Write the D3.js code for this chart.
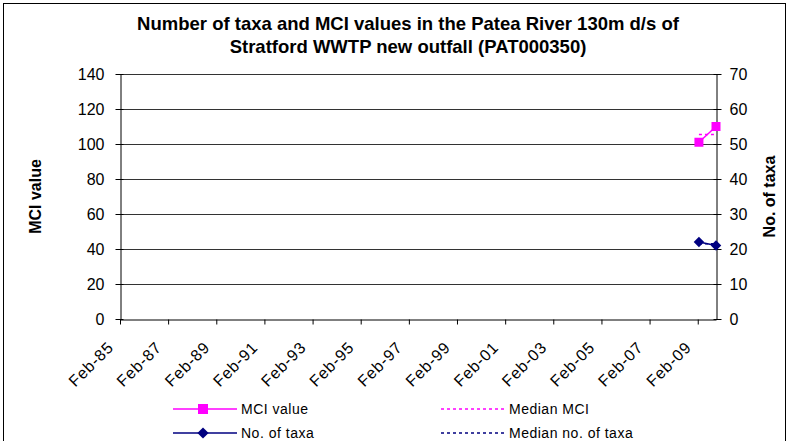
<!DOCTYPE html>
<html>
<head>
<meta charset="utf-8">
<script src="https://cdn.jsdelivr.net/npm/d3@7"></script>
<style>
  body { margin: 0; background: #fff; }
  svg { font-family: "Liberation Sans", Arial, sans-serif; }
</style>
</head>
<body>
<div id="chart"></div>
<script>
// sample dates and values
const sampleDates = ["2009-02-19", "2009-11-05"];
const mciValues = [101, 110];
const taxaValues = [22, 21];
const medianMci = 105.5;
const medianTaxa = 21.5;

const mciTicks = [0, 20, 40, 60, 80, 100, 120, 140];
const taxaTicks = [0, 10, 20, 30, 40, 50, 60, 70];
const tickYears = [1985, 1987, 1989, 1991, 1993, 1995, 1997, 1999, 2001, 2003, 2005, 2007, 2009];

const titleLines = ["Number of taxa and MCI values in the Patea River 130m d/s of",
                    "Stratford WWTP new outfall (PAT000350)"];

const width = 788, height = 441;
const margin = { left: 120, right: 72, top: 74, bottom: 122 };

const parse = d3.timeParse("%Y-%m-%d");
const dates = sampleDates.map(parse);

const x = d3.scaleTime()
    .domain([new Date(1985, 1, 1), parse("2009-11-05")])
    .range([margin.left, width - margin.right]);
const yL = d3.scaleLinear().domain([0, 140]).range([height - margin.bottom, margin.top]);
const yR = d3.scaleLinear().domain([0, 70]).range([height - margin.bottom, margin.top]);

const svg = d3.select("#chart").append("svg")
    .attr("width", width)
    .attr("height", height);

// outer border
svg.append("rect")
    .attr("x", 3.5).attr("y", 3.5)
    .attr("width", width - 6).attr("height", height + 10)
    .attr("fill", "#fff").attr("stroke", "#000");

// title
svg.append("g").selectAll("text")
    .data(titleLines)
    .join("text")
    .attr("x", 408)
    .attr("y", (d, i) => 30 + i * 23)
    .attr("text-anchor", "middle")
    .attr("font-weight", "bold")
    .attr("font-size", 18.5)
    .text(d => d);

// gridlines
svg.append("g").selectAll("line")
    .data(mciTicks.slice(1))
    .join("line")
    .attr("x1", margin.left).attr("x2", width - margin.right)
    .attr("y1", d => Math.round(yL(d)) + 0.5).attr("y2", d => Math.round(yL(d)) + 0.5)
    .attr("stroke", "#333").attr("stroke-width", 1);

// axes
const xTickDates = tickYears.map(y => new Date(y, 1, 1));
const xAxis = svg.append("g")
    .attr("transform", `translate(0,${height - margin.bottom + 0.5})`)
    .call(d3.axisBottom(x).tickValues(xTickDates).tickSize(5).tickSizeOuter(0).tickFormat(d3.timeFormat("%b-%y")));
xAxis.selectAll("text")
    .attr("font-size", 16)
    .attr("letter-spacing", 0.8)
    .attr("text-anchor", "end")
    .attr("dy", null)
    .attr("y", 0)
    .attr("transform", "translate(-6,29) rotate(-45)");

const leftAxis = svg.append("g")
    .attr("transform", `translate(${margin.left + 0.5},0)`)
    .call(d3.axisLeft(yL).tickValues(mciTicks).tickSize(5).tickSizeOuter(0).tickPadding(11));
leftAxis.selectAll("text").attr("font-size", 16);
leftAxis.selectAll(".tick line").attr("x2", -5).attr("x1", 3);

const rightAxis = svg.append("g")
    .attr("transform", `translate(${width - margin.right + 0.5},0)`)
    .call(d3.axisRight(yR).tickValues(taxaTicks).tickSize(5).tickSizeOuter(0).tickPadding(8));
rightAxis.selectAll("text").attr("font-size", 16);
rightAxis.selectAll(".tick line").attr("x2", 5).attr("x1", -3);

svg.selectAll(".domain, .tick line").attr("stroke", "#000");
svg.selectAll(".tick text").attr("fill", "#000").style("font-family", "'Liberation Sans', Arial, sans-serif");

// axis titles
svg.append("text")
    .attr("transform", `translate(41,${(margin.top + height - margin.bottom) / 2}) rotate(-90)`)
    .attr("text-anchor", "middle")
    .attr("font-weight", "bold").attr("font-size", 16)
    .text("MCI value");
svg.append("text")
    .attr("transform", `translate(775,${(margin.top + height - margin.bottom) / 2}) rotate(-90)`)
    .attr("text-anchor", "middle")
    .attr("font-weight", "bold").attr("font-size", 16)
    .text("No. of taxa");

const pink = "#ff00ff", navy = "#000080";

// median lines
svg.append("line")
    .attr("x1", x(dates[0])).attr("x2", x(dates[dates.length - 1]))
    .attr("y1", yL(medianMci)).attr("y2", yL(medianMci))
    .attr("stroke", pink).attr("stroke-width", 1.5).attr("stroke-dasharray", "3,3");
svg.append("line")
    .attr("x1", x(dates[0])).attr("x2", x(dates[dates.length - 1]))
    .attr("y1", yR(medianTaxa)).attr("y2", yR(medianTaxa))
    .attr("stroke", navy).attr("stroke-width", 1.5).attr("stroke-dasharray", "3,3");

// MCI series
const mciLine = d3.line().x((d, i) => x(dates[i])).y(d => yL(d));
svg.append("path").datum(mciValues)
    .attr("d", mciLine).attr("fill", "none")
    .attr("stroke", pink).attr("stroke-width", 1.5);
svg.append("g").selectAll("rect")
    .data(mciValues)
    .join("rect")
    .attr("x", (d, i) => x(dates[i]) - 4.5)
    .attr("y", d => yL(d) - 4.5)
    .attr("width", 9).attr("height", 9)
    .attr("fill", pink);

// taxa series
const taxaLine = d3.line().x((d, i) => x(dates[i])).y(d => yR(d));
svg.append("path").datum(taxaValues)
    .attr("d", taxaLine).attr("fill", "none")
    .attr("stroke", navy).attr("stroke-width", 1.5);
const diamond = d3.symbol().type(d3.symbolDiamond2).size(70);
svg.append("g").selectAll("path")
    .data(taxaValues)
    .join("path")
    .attr("d", diamond)
    .attr("transform", (d, i) => `translate(${x(dates[i])},${yR(d)})`)
    .attr("fill", navy);

// legend
const legendItems = [
  { label: "MCI value", color: pink, dash: null, marker: "square", lx: 173, ly: 409 },
  { label: "No. of taxa", color: navy, dash: null, marker: "diamond", lx: 173, ly: 433 },
  { label: "Median MCI", color: pink, dash: "3,3", marker: null, lx: 441, ly: 409 },
  { label: "Median no. of taxa", color: navy, dash: "3,3", marker: null, lx: 441, ly: 433 }
];
const lg = svg.append("g").selectAll("g")
    .data(legendItems)
    .join("g")
    .attr("transform", d => `translate(${d.lx},${d.ly})`);
lg.append("line")
    .attr("x1", 0).attr("x2", 64).attr("y1", 0).attr("y2", 0)
    .attr("stroke", d => d.color).attr("stroke-width", 1.5)
    .attr("stroke-dasharray", d => d.dash);
lg.filter(d => d.marker === "square").append("rect")
    .attr("x", 25).attr("y", -5).attr("width", 10).attr("height", 10)
    .attr("fill", d => d.color);
lg.filter(d => d.marker === "diamond").append("path")
    .attr("d", d3.symbol().type(d3.symbolDiamond2).size(80))
    .attr("transform", "translate(30,0)")
    .attr("fill", d => d.color);
lg.append("text")
    .attr("x", 68).attr("y", 5)
    .attr("font-size", 14)
    .attr("letter-spacing", 0.5)
    .text(d => d.label);
</script>
</body>
</html>
